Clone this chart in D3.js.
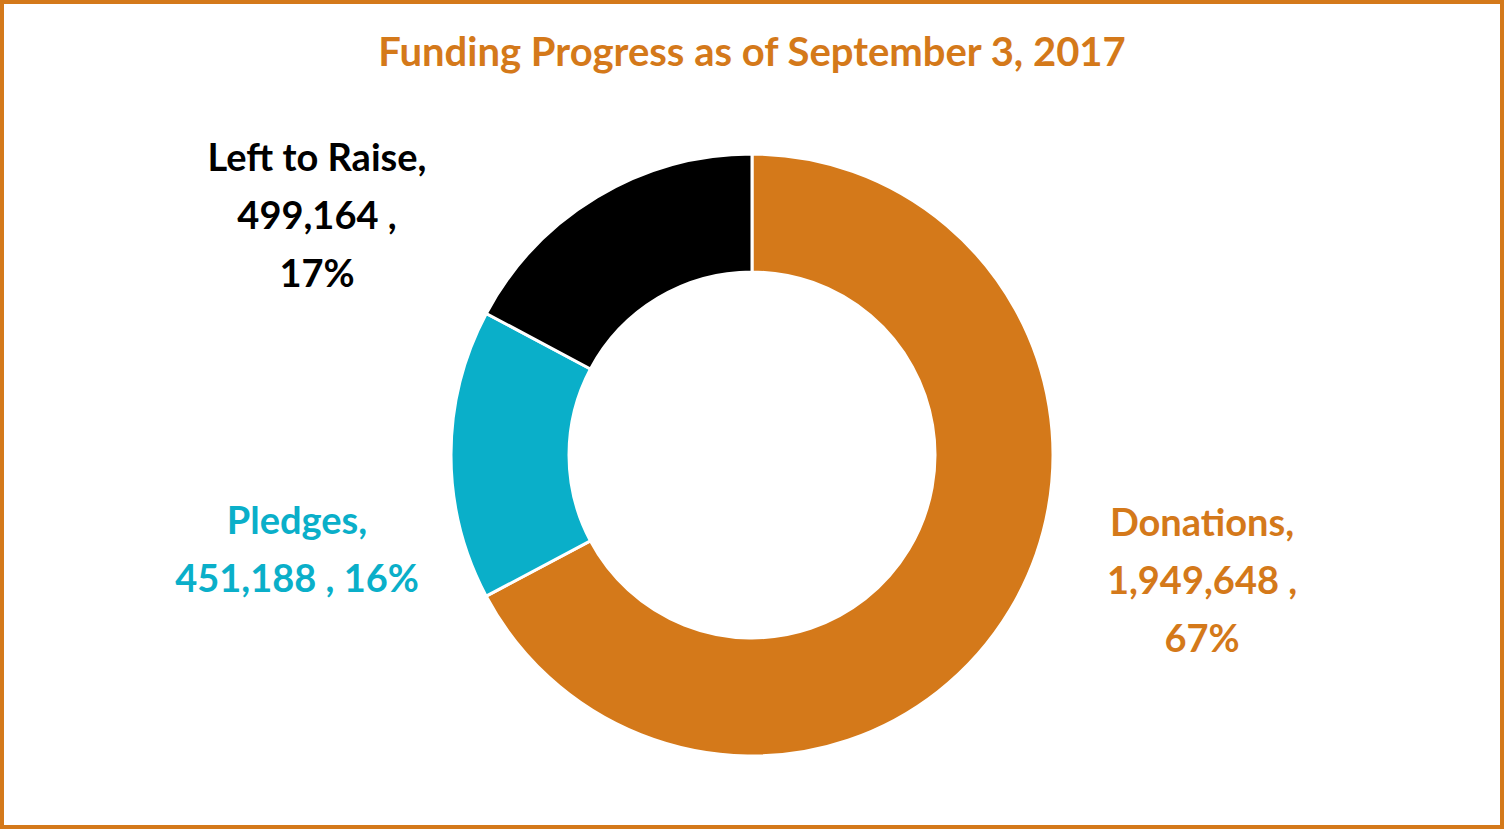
<!DOCTYPE html>
<html><head><meta charset="utf-8">
<script src="https://cdn.jsdelivr.net/npm/d3@7"></script>
<style>body{margin:0;background:#fff}</style>
</head><body>
<svg id="chart" width="1504" height="829"></svg>
<script>
// chart values
var categories = ["Donations", "Pledges", "Left to Raise"];
var values = [1949648, 451188, 499164];
var percents = ["67%", "16%", "17%"];
var colors = ["#D4791A", "#0AAFC9", "#000000"];
// label lines per slice
var labelLines = [
  ["Donations,", "1,949,648 ,", "67%"],
  ["Pledges,", "451,188 , 16%"],
  ["Left to Raise,", "499,164 ,", "17%"]
];
var labelPos = [[1202, 536], [297, 534], [317, 171]];

var svg = d3.select("#chart");
var font = "Lato, 'Open Sans', sans-serif";

svg.append("rect").attr("x", 2).attr("y", 2).attr("width", 1500).attr("height", 825)
  .attr("fill", "#fff").attr("stroke", "#D4791A").attr("stroke-width", 4);

svg.append("text").attr("x", 752).attr("y", 66).attr("text-anchor", "middle")
  .style("font-family", font).style("font-weight", "bold").style("font-size", "40px")
  .attr("fill", "#D4791A").text("Funding Progress as of September 3, 2017");

var pie = d3.pie().sort(null).value(function(d) { return d; });
var arc = d3.arc().innerRadius(183).outerRadius(301);

var g = svg.append("g").attr("transform", "translate(752,455)");
g.selectAll("path").data(pie(values)).enter().append("path")
  .attr("d", arc)
  .attr("fill", function(d, i) { return colors[i]; })
  .attr("stroke", "#fff").attr("stroke-width", 3);

labelLines.forEach(function(lines, i) {
  var t = svg.append("text").attr("text-anchor", "middle")
    .style("font-family", font).style("font-weight", "bold").style("font-size", "38px")
    .attr("fill", colors[i]);
  lines.forEach(function(l, j) {
    t.append("tspan").attr("x", labelPos[i][0]).attr("y", labelPos[i][1] + j * 58).text(l);
  });
});
</script>
</body></html>
